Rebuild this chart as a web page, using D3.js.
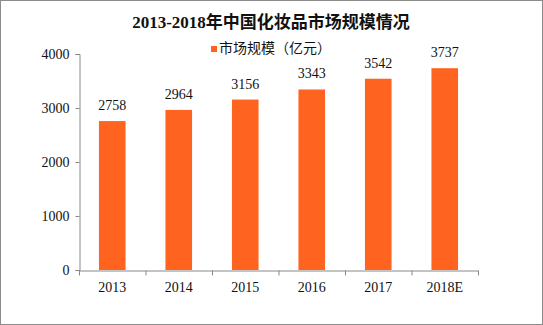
<!DOCTYPE html>
<html><head><meta charset="utf-8">
<script src="https://cdn.jsdelivr.net/npm/d3@7"></script>
<style>body{margin:0;background:#fff}svg{display:block}</style>
</head><body>
<svg id="c" width="543" height="325"></svg>
<script>
const categories = ["2013","2014","2015","2016","2017","2018E"];
const values = [2758,2964,3156,3343,3542,3737];
const yTicks = [0,1000,2000,3000,4000];
const title = "2013-2018年中国化妆品市场规模情况";
const seriesName = "市场规模（亿元）";

const svg = d3.select("#c");
const font = "'Liberation Serif','Noto Sans CJK SC',serif";
svg.append("rect").attr("x",0.5).attr("y",0.5).attr("width",542).attr("height",324)
  .attr("fill","#fff").attr("stroke","#8c8c8c");

const x = d3.scaleBand().domain(categories).range([79,478]).paddingInner(0.6).paddingOuter(0.3);
const y = d3.scaleLinear().domain([0,4000]).range([270,54]);

svg.append("text").attr("x",271).attr("y",28).attr("text-anchor","middle")
  .attr("font-family",font).attr("font-size",17).attr("font-weight","bold").attr("fill","#111").text(title);

svg.append("rect").attr("x",211).attr("y",46).attr("width",6).attr("height",6).attr("fill","#FE6420");
svg.append("text").attr("x",219).attr("y",53).attr("font-family","'Noto Sans CJK SC',sans-serif")
  .attr("font-size",14).attr("fill","#111").text(seriesName);

const ya = svg.append("g").attr("transform","translate(79.5,0)")
  .call(d3.axisLeft(y).tickValues(yTicks).tickSize(4).tickPadding(6).tickFormat(d3.format("d")));
ya.selectAll("path,line").attr("stroke","#888");
ya.selectAll("text").attr("font-family",font).attr("font-size",14).attr("fill","#111");

svg.append("g").selectAll("rect").data(values).join("rect")
  .attr("x",(d,i)=>x(categories[i])).attr("width",x.bandwidth())
  .attr("y",d=>y(d)).attr("height",d=>y(0)-y(d)).attr("fill","#FE6420");

svg.append("g").selectAll("text").data(values).join("text")
  .attr("x",(d,i)=>x(categories[i])+x.bandwidth()/2).attr("y",d=>y(d)-11)
  .attr("text-anchor","middle").attr("font-family",font).attr("font-size",14).attr("fill","#111")
  .text(d=>d);

const xb = d3.scaleBand().domain(categories).range([79,478]);
const xa = svg.append("g").attr("transform","translate(0,270.5)")
  .call(d3.axisBottom(xb).tickSize(0).tickPadding(12));
xa.selectAll("path").attr("stroke","#888");
xa.selectAll("text").attr("font-family",font).attr("font-size",14).attr("fill","#111");
xa.selectAll(".sep").data(d3.range(categories.length+1)).join("line").attr("class","sep")
  .attr("x1",i=>79.5+i*xb.step()).attr("x2",i=>79.5+i*xb.step()).attr("y1",0).attr("y2",5).attr("stroke","#888");
</script>
</body></html>
